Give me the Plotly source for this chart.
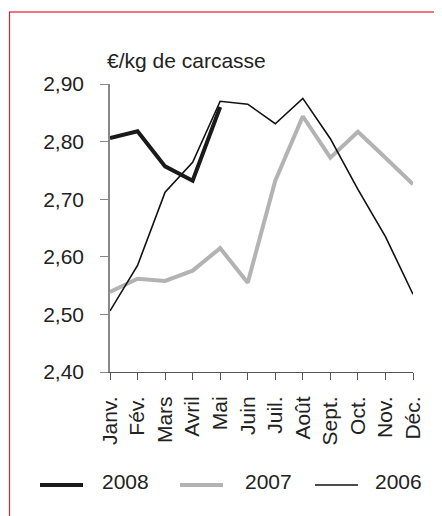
import plotly.graph_objects as go

months = ["Janv.", "Fév.", "Mars", "Avril", "Mai", "Juin", "Juil.", "Août",
          "Sept.", "Oct.", "Nov.", "Déc."]
y2008 = [2.806, 2.818, 2.757, 2.732, 2.860]
y2007 = [2.539, 2.562, 2.558, 2.576, 2.615, 2.555, 2.732, 2.844, 2.772, 2.817, 2.772, 2.726]
y2006 = [2.506, 2.585, 2.712, 2.764, 2.870, 2.865, 2.831, 2.875, 2.805, 2.717, 2.635, 2.535]
yticks = [2.40, 2.50, 2.60, 2.70, 2.80, 2.90]
ytick_labels = ["2,40", "2,50", "2,60", "2,70", "2,80", "2,90"]

FONT = "Liberation Sans, Arial, sans-serif"
FS = 21
OFF = 8  # browser body margin
W, H = 442 - OFF, 516 - OFF
L, T = 110 - OFF, 84 - OFF
R = W - (413 - OFF)
B = H - (372 - OFF)
pw, ph = W - L - R, H - T - B

def px(x):  # absolute window pixel -> paper
    return (x - OFF - L) / pw

def py(y):
    return (H - B - (y - OFF)) / ph

fig = go.Figure()
fig.add_trace(go.Scatter(x=months, y=y2007, mode="lines", name="2007",
                         line=dict(color="#b3b3b3", width=4)))
fig.add_trace(go.Scatter(x=months, y=y2006, mode="lines", name="2006",
                         line=dict(color="#111111", width=1.6)))
fig.add_trace(go.Scatter(x=months[:len(y2008)], y=y2008, mode="lines", name="2008",
                         line=dict(color="#1a1a1a", width=4)))

shapes = [
    dict(type="line", xref="paper", yref="paper", x0=px(9), x1=px(442), y0=py(12), y1=py(12),
         line=dict(color="#f07483", width=2)),
    dict(type="line", xref="paper", yref="paper", x0=px(9.5), x1=px(9.5), y0=py(12), y1=py(530),
         line=dict(color="#d3213f", width=1.2)),
]
legend_items = [("2008", "#1a1a1a", 4, 40, 83, 100),
                ("2007", "#b3b3b3", 4, 180, 223, 243),
                ("2006", "#111111", 1.6, 315, 358, 373)]
annotations = [dict(text="€/kg de carcasse", xref="paper", yref="paper", x=px(105), y=py(61),
                    xanchor="left", yanchor="middle", showarrow=False,
                    font=dict(family=FONT, size=FS, color="#222"))]
for name, col, wd, x0, x1, tx in legend_items:
    shapes.append(dict(type="line", xref="paper", yref="paper", x0=px(x0), x1=px(x1),
                       y0=py(485), y1=py(485), line=dict(color=col, width=wd)))
    annotations.append(dict(text=name, xref="paper", yref="paper", x=px(tx), y=py(481),
                            xanchor="left", yanchor="middle", showarrow=False,
                            font=dict(family=FONT, size=FS, color="#222")))

fig.update_layout(
    width=W, height=H,
    margin=dict(l=L, r=R, t=T, b=B, pad=0),
    paper_bgcolor="white", plot_bgcolor="white",
    showlegend=False,
    font=dict(family=FONT, size=FS, color="#222"),
    xaxis=dict(type="category", range=[0, 11], showgrid=False, zeroline=False,
               showline=True, linecolor="#555", linewidth=1,
               ticks="outside", ticklen=7, tickcolor="#555", tickangle=-90,
               ticklabelstandoff=8,
               tickfont=dict(family=FONT, size=FS, color="#222")),
    yaxis=dict(range=[2.40, 2.90], tickvals=yticks, ticktext=ytick_labels,
               showgrid=False, zeroline=False, showline=True, linecolor="#888", linewidth=1.5,
               ticks="outside", ticklen=8, tickcolor="#888",
               ticklabelstandoff=12,
               tickfont=dict(family=FONT, size=FS, color="#222")),
    shapes=shapes, annotations=annotations,
)
fig.write_html("out.html")
